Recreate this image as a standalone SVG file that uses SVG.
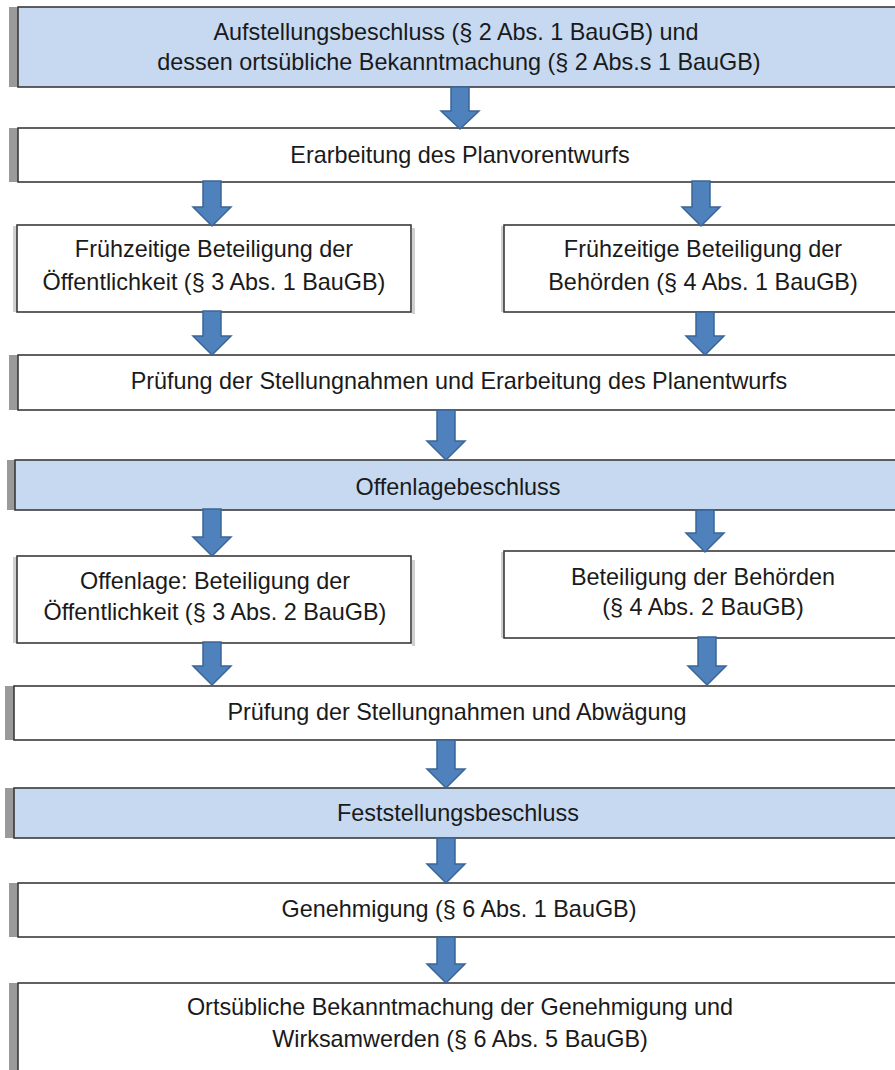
<svg xmlns="http://www.w3.org/2000/svg" width="895" height="1070" viewBox="0 0 895 1070">
<defs>
<style>
.bar{fill:#9a9a9a}
.box{fill:#ffffff;stroke:#3a3a3a;stroke-width:1.6}
.blue{fill:#c6d9f1;stroke:#3a3a3a;stroke-width:1.6}
.shadow{fill:#d0d0d0}
.arr{fill:#4f81bd;stroke:#3b6596;stroke-width:1.5;stroke-linejoin:miter}
text{font-family:"Liberation Sans",Arial,sans-serif;font-size:23.4px;fill:#1a1a1a;text-anchor:middle}
</style>
</defs>
<rect width="895" height="1070" fill="#ffffff"/>
<g id="n1">
<rect class="bar" x="9" y="7" width="9" height="80"/>
<rect class="blue" x="18" y="7" width="890" height="80"/>
<text x="456" y="40">Aufstellungsbeschluss (§ 2 Abs. 1 BauGB) und</text>
<text x="459" y="70">dessen ortsübliche Bekanntmachung (§ 2 Abs.s 1 BauGB)</text>
</g>
<g id="n2">
<rect class="bar" x="9" y="128" width="9" height="54"/>
<rect class="box" x="18" y="128" width="890" height="54"/>
<text x="460" y="163">Erarbeitung des Planvorentwurfs</text>
</g>
<g id="n3">
<rect class="shadow" x="13" y="226" width="4" height="86"/>
<rect class="shadow" x="412" y="228" width="3" height="86"/>
<rect class="box" x="17" y="225" width="394" height="87"/>
<text x="214" y="257">Frühzeitige Beteiligung der</text>
<text x="214" y="290">Öffentlichkeit (§ 3 Abs. 1 BauGB)</text>
</g>
<g id="n4">
<rect class="shadow" x="501" y="226" width="3" height="86"/>
<rect class="box" x="504" y="225" width="400" height="87"/>
<text x="703" y="257">Frühzeitige Beteiligung der</text>
<text x="703" y="290">Behörden (§ 4 Abs. 1 BauGB)</text>
</g>
<g id="n5">
<rect class="bar" x="9" y="355" width="9" height="55"/>
<rect class="box" x="18" y="355" width="890" height="55"/>
<text x="459" y="389">Prüfung der Stellungnahmen und Erarbeitung des Planentwurfs</text>
</g>
<g id="n6">
<rect class="bar" x="7" y="460" width="8" height="50"/>
<rect class="blue" x="15" y="460" width="893" height="50"/>
<text x="458" y="495">Offenlagebeschluss</text>
</g>
<g id="n7">
<rect class="shadow" x="13" y="557" width="4" height="86"/>
<rect class="shadow" x="412" y="560" width="3" height="86"/>
<rect class="box" x="17" y="556" width="394" height="87"/>
<text x="215" y="589">Offenlage: Beteiligung der</text>
<text x="215" y="620">Öffentlichkeit (§ 3 Abs. 2 BauGB)</text>
</g>
<g id="n8">
<rect class="shadow" x="501" y="552" width="3" height="86"/>
<rect class="box" x="504" y="551" width="400" height="87"/>
<text x="703" y="585">Beteiligung der Behörden</text>
<text x="703" y="615">(§ 4 Abs. 2 BauGB)</text>
</g>
<g id="n9">
<rect class="bar" x="5" y="686" width="9" height="54"/>
<rect class="box" x="14" y="686" width="894" height="54"/>
<text x="457" y="720">Prüfung der Stellungnahmen und Abwägung</text>
</g>
<g id="n10">
<rect class="bar" x="5" y="788" width="9" height="50"/>
<rect class="blue" x="14" y="788" width="894" height="50"/>
<text x="458" y="821">Feststellungsbeschluss</text>
</g>
<g id="n11">
<rect class="bar" x="9" y="883" width="9" height="54"/>
<rect class="box" x="18" y="883" width="890" height="54"/>
<text x="459" y="917">Genehmigung (§ 6 Abs. 1 BauGB)</text>
</g>
<g id="n12">
<rect class="bar" x="9" y="983" width="9" height="100"/>
<rect class="box" x="18" y="983" width="890" height="100"/>
<text x="460" y="1015">Ortsübliche Bekanntmachung der Genehmigung und</text>
<text x="460" y="1047">Wirksamwerden (§ 6 Abs. 5 BauGB)</text>
</g>
<g id="connectors">
<path class="arr" d="M451,87 H469 V111 H479 L460,129 L441,111 H451 Z"/>
<path class="arr" d="M203,181 H221 V207 H231 L212,226 L193,207 H203 Z"/>
<path class="arr" d="M692,181 H710 V207 H720 L701,226 L682,207 H692 Z"/>
<path class="arr" d="M203,311 H221 V336 H231 L212,355 L193,336 H203 Z"/>
<path class="arr" d="M696,312 H714 V336 H724 L705,355 L686,336 H696 Z"/>
<path class="arr" d="M437,410 H455 V441 H465 L446,460 L427,441 H437 Z"/>
<path class="arr" d="M203,509 H221 V537 H231 L212,556 L193,537 H203 Z"/>
<path class="arr" d="M696,510 H714 V533 H724 L705,552 L686,533 H696 Z"/>
<path class="arr" d="M203,642 H221 V666 H231 L212,685 L193,666 H203 Z"/>
<path class="arr" d="M698,637 H716 V666 H726 L707,685 L688,666 H698 Z"/>
<path class="arr" d="M437,740 H455 V769 H465 L446,788 L427,769 H437 Z"/>
<path class="arr" d="M437,838 H455 V864 H465 L446,883 L427,864 H437 Z"/>
<path class="arr" d="M437,937 H455 V964 H465 L446,983 L427,964 H437 Z"/>
</g>
</svg>
